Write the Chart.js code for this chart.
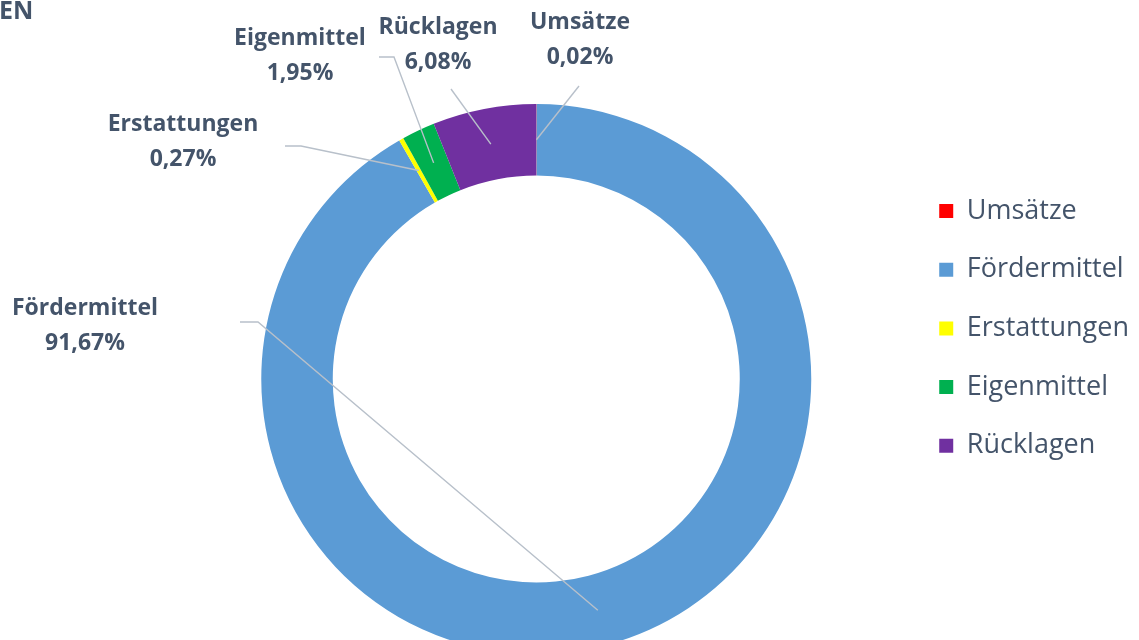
<!DOCTYPE html>
<html>
<head>
<meta charset="utf-8">
<script src="https://cdn.jsdelivr.net/npm/chart.js@4.4.0/dist/chart.umd.min.js"></script>
<style>
  html, body { margin: 0; padding: 0; background: #fff; overflow: hidden; }
  #wrap { position: relative; width: 1139px; height: 640px; overflow: hidden; }
  #title { position: absolute; left: -1px; top: -8px; font: bold 25px "Open Sans", sans-serif; color: #44546a; }
  canvas { position: absolute; left: 0; top: 0; }
</style>
</head>
<body>
<div id="wrap">
  <canvas id="chart" width="1139" height="700"></canvas>
  <div id="title">EN</div>
</div>
<script>
// Data
const categories = ["Umsätze", "Fördermittel", "Erstattungen", "Eigenmittel", "Rücklagen"];
const shares = [0.02, 91.67, 0.27, 1.95, 6.08];
const sliceColors = ["#ff0000", "#5b9bd5", "#ffff00", "#00b050", "#7030a0"];

const textColor = "#44546a";

// where each callout label sits and the bend of its leader line
const callouts = [
  { x: 580, y: 22, line: [[579, 86]] },
  { x: 85, y: 308, line: [[240, 322], [258, 322]] },
  { x: 183, y: 124, line: [[285, 146], [301, 146]] },
  { x: 300, y: 38, line: [[379, 57], [394, 57]] },
  { x: 438, y: 27, line: [[451, 89]] }
];

const calloutPlugin = {
  id: "callouts",
  afterDatasetsDraw(chart) {
    const ctx = chart.ctx;
    const meta = chart.getDatasetMeta(0);
    ctx.save();
    meta.data.forEach((arc, i) => {
      const c = callouts[i];
      const mid = (arc.startAngle + arc.endAngle) / 2;
      const r = (arc.innerRadius + arc.outerRadius) / 2;
      const ax = arc.x + Math.cos(mid) * r;
      const ay = arc.y + Math.sin(mid) * r;
      ctx.strokeStyle = "#b8c0ca";
      ctx.lineWidth = 1.4;
      ctx.beginPath();
      c.line.forEach((p, j) => j === 0 ? ctx.moveTo(p[0], p[1]) : ctx.lineTo(p[0], p[1]));
      ctx.lineTo(ax, ay);
      ctx.stroke();

      ctx.fillStyle = textColor;
      ctx.font = "bold 23px 'Open Sans'";
      ctx.textAlign = "center";
      ctx.textBaseline = "middle";
      ctx.fillText(categories[i], c.x, c.y);
      ctx.fillText(shares[i].toFixed(2).replace(".", ",") + "%", c.x, c.y + 35);
    });
    ctx.restore();
  }
};

new Chart(document.getElementById("chart"), {
  type: "doughnut",
  data: {
    labels: categories,
    datasets: [{
      data: shares,
      backgroundColor: sliceColors,
      borderWidth: 0
    }]
  },
  options: {
    responsive: false,
    animation: false,
    devicePixelRatio: 1,
    cutout: "74%",
    layout: { padding: { top: 104, bottom: 46, left: 165, right: 0 } },
    plugins: {
      tooltip: { enabled: false },
      legend: {
        position: "right",
        align: "start",
        title: { display: true, text: " ", font: { size: 12 }, padding: { top: 0, bottom: 47.4 } },
        labels: {
          color: textColor,
          font: { family: "Open Sans", size: 27 },
          boxWidth: 14,
          boxHeight: 14,
          padding: 31.7
        }
      }
    }
  },
  plugins: [calloutPlugin]
});
</script>
</body>
</html>
